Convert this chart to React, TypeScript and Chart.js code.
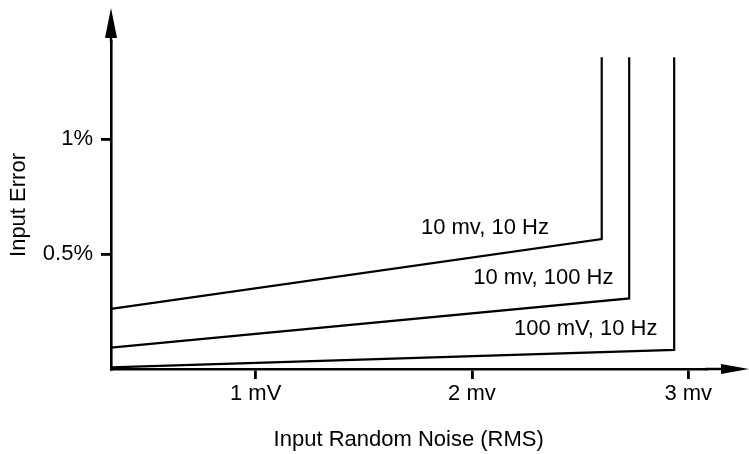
import React, { useEffect, useRef } from "react";
import { Chart, registerables } from "chart.js";

Chart.register(...registerables);

// Series (x: input random noise in mV, y: input error in %)
const seriesNames = ["10 mv, 10 Hz", "10 mv, 100 Hz", "100 mV, 10 Hz"];
const noise10mv10Hz = [0.331, 2.6, 2.6];
const error10mv10Hz = [0.261, 0.565, 1.355];
const noise10mv100Hz = [0.331, 2.727, 2.727];
const error10mv100Hz = [0.093, 0.307, 1.355];
const noise100mV10Hz = [0.331, 2.935, 2.935];
const error100mV10Hz = [0.007, 0.083, 1.355];

// Ticks
const xTickValues = [1, 2, 3];
const xTickLabels = ["1 mV", "2 mv", "3 mv"];
const yTickValues = [0.5, 1];
const yTickLabels = ["0.5%", "1%"];

// Series label anchors (data units)
const labelNoise = [2.06, 2.33, 2.526];
const labelError = [0.614, 0.394, 0.173];

const xTitle = "Input Random Noise (RMS)";
const yTitle = "Input Error";

const FONT = "'Liberation Sans', Arial, Helvetica, sans-serif";
const FONT_SIZE = 22;
const INK = "#000";

const axisArrows = {
  id: "axisArrows",
  afterDraw(chart: any) {
    const { ctx, chartArea } = chart;
    const W = chart.width;
    ctx.save();
    ctx.strokeStyle = INK;
    ctx.fillStyle = INK;
    ctx.lineWidth = 2.5;
    const ax = chartArea.left;
    const ay = chartArea.bottom;
    // x axis extension + arrow
    ctx.beginPath();
    ctx.moveTo(chartArea.right - 1, ay);
    ctx.lineTo(W - 26, ay);
    ctx.stroke();
    ctx.beginPath();
    ctx.moveTo(W, ay);
    ctx.lineTo(W - 28, ay - 5);
    ctx.lineTo(W - 28, ay + 5);
    ctx.closePath();
    ctx.fill();
    // y axis extension + arrow
    ctx.beginPath();
    ctx.moveTo(ax, chartArea.top + 1);
    ctx.lineTo(ax, 36);
    ctx.stroke();
    ctx.beginPath();
    ctx.moveTo(ax, 8);
    ctx.lineTo(ax - 6, 38);
    ctx.lineTo(ax + 6, 38);
    ctx.closePath();
    ctx.fill();
    ctx.restore();
  },
};

const seriesLabels = {
  id: "seriesLabels",
  afterDatasetsDraw(chart: any) {
    const { ctx } = chart;
    const xs = chart.scales.x;
    const ys = chart.scales.y;
    ctx.save();
    ctx.font = `${FONT_SIZE}px ${FONT}`;
    ctx.fillStyle = INK;
    ctx.textAlign = "center";
    ctx.textBaseline = "middle";
    seriesNames.forEach((name, i) => {
      ctx.fillText(name, xs.getPixelForValue(labelNoise[i]), ys.getPixelForValue(labelError[i]));
    });
    ctx.restore();
  },
};

function toPoints(xs: number[], ys: number[]) {
  return xs.map((x, i) => ({ x, y: ys[i] }));
}

export default function App() {
  const ref = useRef<HTMLCanvasElement | null>(null);

  useEffect(() => {
    if (!ref.current) return;
    const lineStyle = {
      borderColor: INK,
      backgroundColor: INK,
      borderWidth: 2.2,
      pointRadius: 0,
      tension: 0,
      fill: false,
    };
    const chart = new Chart(ref.current, {
      type: "line",
      data: {
        datasets: [
          { label: seriesNames[0], data: toPoints(noise10mv10Hz, error10mv10Hz), ...lineStyle },
          { label: seriesNames[1], data: toPoints(noise10mv100Hz, error10mv100Hz), ...lineStyle },
          { label: seriesNames[2], data: toPoints(noise100mV10Hz, error100mV10Hz), ...lineStyle },
        ],
      },
      options: {
        animation: false,
        responsive: false,
        devicePixelRatio: 1,
        layout: { padding: { top: 41, right: 42.6, bottom: 0, left: 0 } },
        plugins: {
          legend: { display: false },
          tooltip: { enabled: false },
        },
        font: { family: FONT },
        scales: {
          x: {
            type: "linear",
            min: 0.331,
            max: 3.084,
            afterBuildTicks: (scale: any) => {
              scale.ticks = xTickValues.map((v) => ({ value: v }));
            },
            afterFit: (scale: any) => {
              scale.height = 85;
            },
            ticks: {
              color: INK,
              font: { family: FONT, size: FONT_SIZE },
              padding: 2,
              maxRotation: 0,
              autoSkip: false,
              callback: (v: any) => {
                const i = xTickValues.indexOf(Number(v));
                return i >= 0 ? xTickLabels[i] : "";
              },
            },
            grid: {
              display: true,
              drawOnChartArea: false,
              drawTicks: true,
              tickLength: 10,
              color: INK,
              lineWidth: 2.8,
            },
            border: { display: true, color: INK, width: 2.6 },
            title: {
              display: true,
              text: xTitle,
              color: INK,
              font: { family: FONT, size: FONT_SIZE },
              padding: { top: 0, bottom: 1 },
            },
          },
          y: {
            type: "linear",
            min: 0,
            max: 1.426,
            afterBuildTicks: (scale: any) => {
              scale.ticks = yTickValues.map((v) => ({ value: v }));
            },
            afterFit: (scale: any) => {
              scale.width = 111;
            },
            ticks: {
              color: INK,
              font: { family: FONT, size: FONT_SIZE },
              padding: 8,
              autoSkip: false,
              callback: (v: any) => {
                const i = yTickValues.indexOf(Number(v));
                return i >= 0 ? yTickLabels[i] : "";
              },
            },
            grid: {
              display: true,
              drawOnChartArea: false,
              drawTicks: true,
              tickLength: 10,
              color: INK,
              lineWidth: 2.8,
            },
            border: { display: true, color: INK, width: 2.6 },
            title: {
              display: true,
              text: yTitle,
              color: INK,
              font: { family: FONT, size: FONT_SIZE },
              padding: { top: 6, bottom: 0 },
            },
          },
        },
      },
      plugins: [axisArrows, seriesLabels],
    } as any);
    return () => chart.destroy();
  }, []);

  return (
    <div style={{ position: "fixed", left: 0, top: 0, width: 749, height: 454, background: "#fff" }}>
      <canvas ref={ref} width={749} height={454} style={{ display: "block" }} />
    </div>
  );
}
